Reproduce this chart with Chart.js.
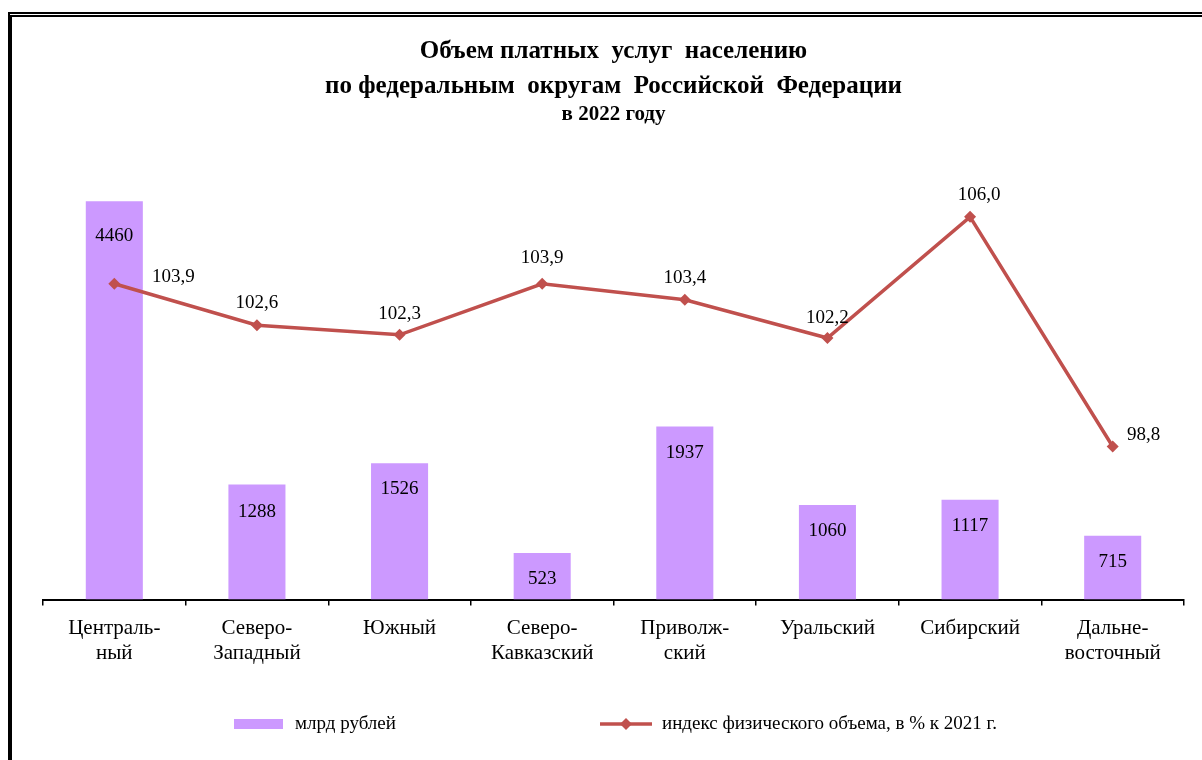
<!DOCTYPE html>
<html lang="ru">
<head>
<meta charset="UTF-8">
<title>Объем платных услуг населению</title>
<script src="https://cdn.jsdelivr.net/npm/chart.js"></script>
<style>
  html, body { margin: 0; padding: 0; background: #fff; overflow: hidden; }
  .frame { position: absolute; left: 8px; top: 12px; width: 1400px; height: 900px;
           border-top: 5px double #000; border-left: 4px solid #000; }
  .wrap { position: absolute; left: 0; top: 0; width: 1202px; height: 760px; }
</style>
</head>
<body>
<div class="frame"></div>
<div class="wrap"><canvas id="chart"></canvas></div>
<script>
  const districts = [
    ['Централь-', 'ный'], ['Северо-', 'Западный'], ['Южный'], ['Северо-', 'Кавказский'],
    ['Приволж-', 'ский'], ['Уральский'], ['Сибирский'], ['Дальне-', 'восточный']
  ];
  const volumeBln = [4460, 1288, 1526, 523, 1937, 1060, 1117, 715];
  const volumeIndex = [103.9, 102.6, 102.3, 103.9, 103.4, 102.2, 106.0, 98.8];

  // where the labels sit relative to their mark (px)
  const barLabelShift = [35, 27, 26, 26, 26, 26, 26, 26];
  const indexLabelShift = [[59, -7], [0, -22], [0, -21], [0, -26], [0, -22], [0, -20], [9, -22], [31, -11]];

  const serif = '"Liberation Serif", "Times New Roman", serif';
  const barColor = '#CC99FF';
  const lineColor = '#C0504D';

  const labelsPlugin = {
    id: 'labelsAndLegend',
    afterDatasetsDraw(chart) {
      const ctx = chart.ctx;
      ctx.save();
      ctx.fillStyle = '#000';
      ctx.font = '19px ' + serif;
      ctx.textAlign = 'center';
      ctx.textBaseline = 'middle';
      chart.getDatasetMeta(0).data.forEach((bar, i) => {
        ctx.fillText(String(volumeBln[i]), bar.x, bar.y + barLabelShift[i]);
      });
      chart.getDatasetMeta(1).data.forEach((pt, i) => {
        const [dx, dy] = indexLabelShift[i];
        ctx.fillText(volumeIndex[i].toFixed(1).replace('.', ','), pt.x + dx, pt.y + dy);
      });
      ctx.restore();
    },
    afterDraw(chart) {
      // legend: bar swatch, then line with a diamond
      const ctx = chart.ctx;
      const ds = chart.data.datasets;
      const y = 724;
      ctx.save();
      ctx.font = '19px ' + serif;
      ctx.textBaseline = 'middle';
      ctx.textAlign = 'left';

      ctx.fillStyle = ds[0].backgroundColor;
      ctx.fillRect(234, y - 5, 49, 10);
      ctx.fillStyle = '#000';
      ctx.fillText(ds[0].label, 295, y);

      ctx.strokeStyle = ds[1].borderColor;
      ctx.lineWidth = 3.5;
      ctx.beginPath();
      ctx.moveTo(600, y);
      ctx.lineTo(652, y);
      ctx.stroke();
      ctx.fillStyle = ds[1].borderColor;
      ctx.beginPath();
      ctx.moveTo(626, y - 6);
      ctx.lineTo(632, y);
      ctx.lineTo(626, y + 6);
      ctx.lineTo(620, y);
      ctx.closePath();
      ctx.fill();
      ctx.fillStyle = '#000';
      ctx.fillText(ds[1].label, 662, y);
      ctx.restore();
    }
  };

  new Chart(document.getElementById('chart'), {
    data: {
      labels: districts,
      datasets: [
        {
          type: 'bar',
          label: 'млрд рублей',
          data: volumeBln,
          backgroundColor: barColor,
          yAxisID: 'y',
          barPercentage: 0.4,
          categoryPercentage: 1,
          order: 1
        },
        {
          type: 'line',
          label: 'индекс физического объема, в % к 2021 г.',
          data: volumeIndex,
          borderColor: lineColor,
          backgroundColor: lineColor,
          borderWidth: 3.5,
          pointStyle: 'rectRot',
          pointRadius: 6,
          pointBorderWidth: 0,
          pointBackgroundColor: lineColor,
          tension: 0,
          yAxisID: 'y1',
          order: 0
        }
      ]
    },
    options: {
      responsive: true,
      maintainAspectRatio: false,
      animation: false,
      devicePixelRatio: 1,
      layout: { padding: { top: 34, left: 43, right: 18, bottom: 84 } },
      plugins: {
        legend: { display: false },
        tooltip: { enabled: false },
        title: {
          display: true,
          text: ['Объем платных  услуг  населению', 'по федеральным  округам  Российской  Федерации'],
          color: '#000',
          font: { family: serif, size: 25, weight: 'bold', lineHeight: 1.4 },
          padding: { top: 0, bottom: 0 }
        },
        subtitle: {
          display: true,
          text: 'в 2022 году',
          color: '#000',
          font: { family: serif, size: 21, weight: 'bold', lineHeight: 1.0 },
          padding: { top: 0, bottom: 28 }
        }
      },
      scales: {
        x: {
          offset: true,
          grid: { drawOnChartArea: false, drawTicks: true, tickLength: 6, offset: true, color: '#000', lineWidth: 1.5 },
          border: { display: true, color: '#000', width: 2 },
          ticks: { color: '#000', font: { family: serif, size: 21, lineHeight: 1.2 }, padding: 10, maxRotation: 0, autoSkip: false }
        },
        y: { display: false, min: 0, max: 5000 },
        y1: { display: false, position: 'right', min: 94, max: 108 }
      }
    },
    plugins: [labelsPlugin]
  });
</script>
</body>
</html>
